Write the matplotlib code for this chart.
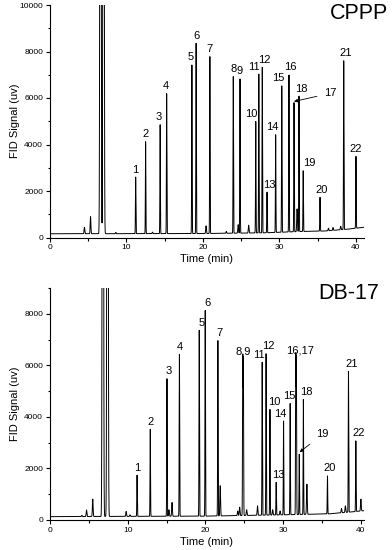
import numpy as np
import matplotlib
matplotlib.use("Agg")
import matplotlib.pyplot as plt

plt.rcParams['font.family'] = ['Liberation Sans', 'DejaVu Sans']

# ---- CPPP column: numbered peaks (retention time in min, apex signal in uv)
cppp_t = [11.2, 12.5, 14.4, 15.25, 18.55, 19.1, 20.9, 23.96, 24.84, 26.9, 27.3,
          27.75, 28.37, 29.5, 30.3, 31.24, 31.9, 32.55, 33.1, 35.3, 38.4, 40.0]
cppp_h = [2600, 4120, 4850, 6190, 7420, 8350, 7780, 6920, 6820, 4990, 7030,
          7320, 1950, 4420, 6520, 6990, 5800, 6080, 2870, 1730, 7600, 3490]
# small unlabelled peaks
cppp_minor_t = [4.5, 5.3, 8.6, 13.4, 20.4, 23.05, 24.6, 25.97, 32.3, 36.4, 37.0, 38.0]
cppp_minor_h = [440, 900, 220, 230, 500, 260, 550, 530, 1230, 400, 430, 480]
# solvent (off scale)
cppp_solv_t = [6.6, 7.0]
cppp_solv_h = [60000, 60000]
# baseline
cppp_base_t = [0, 20, 28, 33, 36, 39, 41]
cppp_base_v = [160, 170, 200, 260, 280, 360, 440]

# ---- DB-17 column
db17_t = [11.2, 12.9, 15.05, 16.65, 19.2, 19.97, 21.6, 24.8, 24.88, 28.3, 27.3,
          27.8, 29.1, 30.05, 30.9, 31.62, 31.7, 32.6, 32.07, 35.7, 38.4, 39.35]
db17_h = [1740, 3520, 5480, 6430, 7360, 8130, 6960, 6250, 6150, 4290, 6120,
          6450, 1460, 3840, 4520, 6300, 6200, 4680, 2550, 1710, 5770, 3070]
db17_minor_t = [4.1, 4.7, 5.5, 9.8, 10.3, 15.3, 15.7, 21.9, 24.15, 24.4, 25.3,
                26.7, 28.65, 29.6, 33.05, 37.5, 38.0, 40.0]
db17_minor_h = [180, 390, 810, 335, 200, 400, 680, 1330, 350, 500, 400,
                550, 400, 350, 1390, 450, 550, 810]
db17_solv_t = [6.8, 7.4]
db17_solv_h = [60000, 60000]
db17_base_t = [0, 20, 30, 36, 39, 41]
db17_base_v = [130, 150, 200, 240, 320, 380]

cppp_labels = [str(i) for i in range(1, 23)]
db17_labels = ['1', '2', '3', '4', '5', '6', '7', '8,9', '', '10', '11', '12',
               '13', '14', '15', '16,17', '', '18', '', '20', '21', '22']
cppp_labels[16] = ''   # 17 is pointed at with an arrow
cppp_labels_dx = [0, 0, -1, -1, -1.5, 0, 0, 0.7, 0, -4, -5, 2, 2, -3, -3, 1, 0, 2, 5.7, 2, 2, 0]
db17_labels_dx = [0, 0, 1.7, 0, 2, 2, 2, 0.5, 0, 4, -3, 2, 1.7, -3, -1, 4, 0, 3.4, 0, 2, 3, 3]


def trace(t, peaks_t, peaks_h, minor_t, minor_h, solv_t, solv_h, base_t, base_v):
    base = np.interp(t, base_t, base_v)
    y = base.copy()
    for p, h in zip(peaks_t, peaks_h):
        y += (h - np.interp(p, base_t, base_v)) * np.exp(-0.5 * ((t - p) / 0.03) ** 2)
    for p, h in zip(minor_t, minor_h):
        y += (h - np.interp(p, base_t, base_v)) * np.exp(-0.5 * ((t - p) / 0.045) ** 2)
    for p, h in zip(solv_t, solv_h):
        y += h * np.exp(-0.5 * ((t - p) / 0.06) ** 2)
    return y


t = np.linspace(0, 41.5, 30000)
px = 72 / 100.0   # pixel -> points

fig = plt.figure(figsize=(3.92, 5.5), dpi=100)
ax1 = fig.add_axes([50 / 392, 1 - 237.5 / 550, 314 / 392, 232.5 / 550])
ax2 = fig.add_axes([50 / 392, 1 - 520 / 550, 314 / 392, 232 / 550])

panels = [
    (ax1, cppp_t, cppp_h, cppp_minor_t, cppp_minor_h, cppp_solv_t, cppp_solv_h,
     cppp_base_t, cppp_base_v, cppp_labels, cppp_labels_dx, (0, 41.05), (0, 10000), 2000),
    (ax2, db17_t, db17_h, db17_minor_t, db17_minor_h, db17_solv_t, db17_solv_h,
     db17_base_t, db17_base_v, db17_labels, db17_labels_dx, (0, 40.4), (0, 9000), 2000),
]

for (ax, pt, ph, mt, mh, st, sh, bt, bv, labs, ldx, xl, yl, ystep) in panels:
    y = trace(t, pt, ph, mt, mh, st, sh, bt, bv)
    ax.plot(t, y, color='black', lw=0.7)
    ax.set_xlim(*xl)
    ax.set_ylim(*yl)
    for s in ['top', 'right']:
        ax.spines[s].set_visible(False)
    for s in ['left', 'bottom']:
        ax.spines[s].set_linewidth(0.8)
    ax.set_xticks([0, 10, 20, 30, 40])
    ax.set_xticks([5, 15, 25, 35], minor=True)
    ax.set_yticks(np.arange(0, yl[1] + 1, ystep))
    ax.set_yticks(np.arange(1000, yl[1] + 1, ystep), minor=True)
    ax.tick_params(which='major', length=3, width=0.8, labelsize=6, pad=2)
    ax.tick_params(which='minor', length=1.8, width=0.8)
    ax.set_xlabel('Time (min)', fontsize=8, labelpad=2)
    ax.set_ylabel('FID Signal (uv)', fontsize=8)
    ax.yaxis.set_label_coords(-0.097, 0.5)
    for lab, p, h, dx in zip(labs, pt, ph, ldx):
        if lab:
            ax.annotate(lab, xy=(p, h), xytext=(dx * px, 7.5 * px),
                        textcoords='offset points', ha='center', va='center',
                        fontsize=8)

ax1.annotate('17', xy=(cppp_t[16], cppp_h[16] + 50), xytext=(36.6, 6200),
             ha='center', va='center', fontsize=8,
             arrowprops=dict(arrowstyle='-|>', color='black', lw=0.6,
                             mutation_scale=5, shrinkA=3, shrinkB=0))
ax2.annotate('19', xy=(db17_t[18] + 0.05, db17_h[18] + 80), xytext=(35.0, 3320),
             ha='center', va='center', fontsize=8,
             arrowprops=dict(arrowstyle='-|>', color='black', lw=0.6,
                             mutation_scale=5, shrinkA=3, shrinkB=0))

fig.text(388 / 392, 1 - 19 / 550, 'CPPP', ha='right', va='baseline', fontsize=15.5)
fig.text(379 / 392, 1 - 299 / 550, 'DB-17', ha='right', va='baseline', fontsize=15.5)

fig.savefig('out.png', dpi=100)
plt.close(fig)
